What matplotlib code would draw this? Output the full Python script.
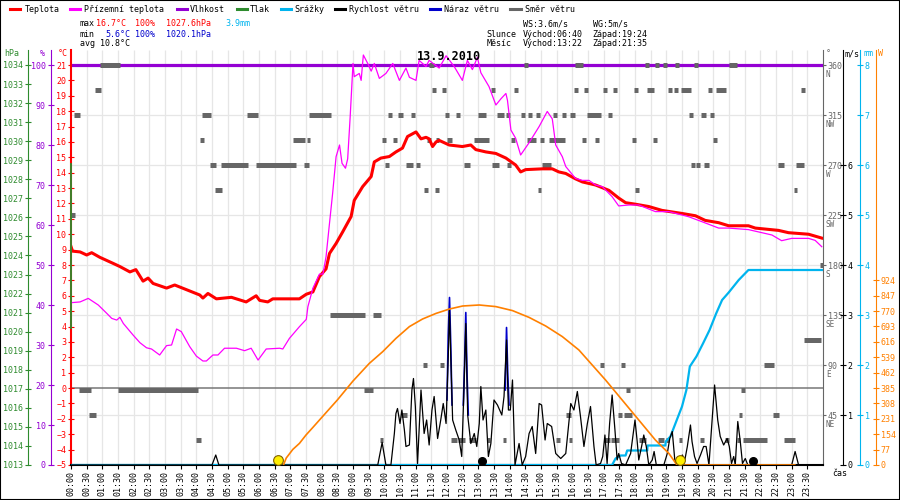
import numpy as np
import matplotlib
matplotlib.use("Agg")
import matplotlib.pyplot as plt
from matplotlib.lines import Line2D
from matplotlib.patches import Rectangle

plt.rcParams['font.family'] = ['DejaVu Sans Mono', 'DejaVu Sans']
plt.rcParams['font.size'] = 6


# --- data (time in hours) ---
temp_t = [0.00, 0.05, 0.29, 0.50, 0.66, 0.92, 1.35, 1.56, 1.88, 2.07, 2.30, 2.46, 2.62,
          3.05, 3.31, 3.68, 4.11, 4.21, 4.37, 4.64, 5.12, 5.59, 5.91, 6.02, 6.28, 6.44,
          6.87, 7.29, 7.51, 7.72, 7.93, 8.14, 8.25, 8.46, 8.67, 8.94, 9.04, 9.31, 9.58,
          9.68, 9.89, 10.16, 10.37, 10.58, 10.74, 11.01, 11.17, 11.33, 11.43, 11.54,
          11.65, 11.75, 12.07, 12.49, 12.76, 12.92, 13.24, 13.56, 13.88, 14.19, 14.35,
          14.51, 15.04, 15.36, 15.57, 15.79, 16.10, 16.32, 16.74, 17.17, 17.48, 17.70,
          18.02, 18.44, 18.86, 19.50, 19.93, 20.24, 20.67, 20.99, 21.62, 21.84, 22.58,
          22.90, 23.54, 23.96]
temp = [9.2, 8.9, 8.85, 8.65, 8.8, 8.5, 8.1, 7.9, 7.55, 7.7, 6.95, 7.15, 6.8,
        6.5, 6.7, 6.4, 6.05, 5.85, 6.15, 5.8, 5.9, 5.6, 6.0, 5.7, 5.6, 5.8,
        5.8, 5.8, 6.1, 6.25, 7.25, 7.75, 8.75, 9.4, 10.15, 11.15, 12.2, 13.1, 13.75,
        14.7, 14.95, 15.05, 15.35, 15.6, 16.35, 16.65, 16.2, 16.3, 16.2, 15.7,
        16.0, 16.1, 15.8, 15.7, 15.8, 15.5, 15.35, 15.25, 14.95, 14.5, 14.05,
        14.2, 14.25, 14.25, 14.05, 13.95, 13.6, 13.4, 13.2, 12.85, 12.35, 12.05,
        11.95, 11.8, 11.55, 11.35, 11.2, 10.9, 10.75, 10.55, 10.55, 10.4, 10.25,
        10.1, 10.0, 9.75]

zem_t = [0.00, 0.29, 0.55, 0.87, 1.14, 1.30, 1.46, 1.56, 1.67, 1.98, 2.20, 2.41, 2.57,
         2.83, 3.05, 3.21, 3.37, 3.52, 3.79, 4.00, 4.21, 4.32, 4.53, 4.69, 4.90, 5.28,
         5.54, 5.75, 5.97, 6.23, 6.66, 6.76, 6.97, 7.29, 7.51, 7.56, 7.72, 7.93, 8.04,
         8.14, 8.25, 8.35, 8.46, 8.57, 8.65, 8.76, 8.83, 8.91, 9.00, 9.04, 9.20, 9.26,
         9.33, 9.47, 9.58, 9.68, 9.84, 10.05, 10.27, 10.48, 10.69, 10.80, 11.01, 11.11,
         11.33, 11.43, 11.75, 11.97, 12.23, 12.49, 12.65, 12.81, 12.97, 13.08, 13.34,
         13.56, 13.72, 13.88, 13.93, 14.04, 14.19, 14.35, 14.62, 14.94, 15.20, 15.36,
         15.47, 15.68, 15.79, 16.10, 16.32, 16.53, 16.74, 16.96, 17.27, 17.48, 17.80,
         18.12, 18.65, 19.08, 19.71, 20.13, 20.67, 20.99, 21.62, 22.05, 22.37, 22.68,
         23.00, 23.54, 23.75, 23.96]
zem = [5.55, 5.6, 5.83, 5.4, 4.86, 4.53, 4.42, 4.6, 4.2, 3.45, 2.95, 2.62, 2.54,
       2.15, 2.76, 2.8, 3.84, 3.67, 2.69, 2.08, 1.76, 1.76, 2.15, 2.15, 2.59, 2.59,
       2.43, 2.59, 1.82, 2.54, 2.59, 2.54, 3.23, 3.99, 4.47, 5.29, 6.49, 7.41, 7.41,
       8.54, 10.71, 12.66, 15.04, 15.8, 14.61, 14.29, 14.9, 17.64, 21.1, 20.24, 20.45, 20.0,
       21.65, 21.1, 20.6, 21.1, 20.13, 20.45, 21.1, 20.0, 20.8, 20.2, 20.0, 21.3,
       20.9, 21.3, 20.8, 21.6, 20.9, 20.0, 21.3, 20.7, 21.5, 20.5, 19.6,
       18.4, 18.8, 19.15, 18.7, 16.77, 16.24, 15.15, 15.95, 17.0, 17.98, 17.5,
       15.8, 15.04, 14.4, 13.63, 13.5, 13.5, 13.2, 13.09, 12.44, 11.84, 11.9,
       11.9, 11.47, 11.47, 11.14, 10.82, 10.4, 10.4, 10.3, 10.1, 9.95, 9.58,
       9.73, 9.73, 9.6, 9.19]

vlhkost_t = [0.0, 24.0]
vlhkost = [100, 100]

tlak_t = [0.0, 0.0]
tlak = [1020.2, 1028.8]

srazky_t = [0.00, 17.27, 17.38, 17.54, 17.70, 17.75, 18.39, 18.40, 18.97, 18.98, 19.13,
            19.29, 19.50, 19.64, 19.75, 19.96, 20.17, 20.38, 20.59, 20.78, 20.99, 21.31,
            21.62, 24.00]
srazky = [0, 0, 0.13, 0.19, 0.19, 0.29, 0.29, 0.39, 0.39, 0.47, 0.57,
          0.83, 1.17, 1.5, 1.97, 2.17, 2.43, 2.7, 3.03, 3.3, 3.45, 3.7,
          3.9, 3.9]

vitr_t = [0.00, 4.50, 4.62, 4.72, 9.79, 9.93, 10.05, 10.21, 10.32, 10.37, 10.42, 10.50,
          10.56, 10.64, 10.69, 10.80, 10.88, 10.93, 10.99, 11.06, 11.17, 11.27, 11.35,
          11.43, 11.52, 11.59, 11.70, 11.80, 11.88, 11.97, 12.04, 12.08, 12.12, 12.18,
          12.28, 12.39, 12.47, 12.54, 12.60, 12.66, 12.76, 12.87, 12.95, 13.03, 13.08,
          13.15, 13.24, 13.32, 13.40, 13.50, 13.61, 13.75, 13.82, 13.90, 13.96, 14.02,
          14.09, 14.17, 14.30, 14.40, 14.51, 14.62, 14.72, 14.83, 14.94, 15.02, 15.13,
          15.20, 15.34, 15.47, 15.63, 15.79, 15.95, 16.05, 16.16, 16.26, 16.37, 16.48,
          16.58, 16.69, 16.76, 16.90, 16.97, 17.04, 17.11, 17.19, 17.27, 17.36, 17.43,
          17.48, 17.57, 17.70, 17.86, 18.00, 18.07, 18.12, 18.21, 18.28, 18.36, 18.44,
          18.55, 18.61, 18.68, 18.92, 19.03, 19.11, 19.19, 19.27, 19.40, 19.51, 19.59,
          19.67, 19.77, 19.82, 19.90, 19.98, 20.09, 20.19, 20.27, 20.36, 20.44, 20.54,
          20.64, 20.72, 20.83, 20.94, 21.01, 21.08, 21.15, 21.20, 21.28, 21.36, 21.43,
          21.52, 21.60, 23.00, 23.11, 23.22, 24.00]
vitr = [0, 0, 0.2, 0, 0, 0.45, 0, 0, 0.63, 1.03, 1.13, 0.83,
        1.1, 0.7, 0.37, 0.4, 1.5, 1.73, 1.17, 0.03, 1.5, 0.63, 0.9,
        0.4, 1.1, 1.37, 0.53, 0.9, 1.23, 0.83, 2.17, 3.1, 2.17, 0.9,
        0.7, 0.5, 0.17, 1.5, 2.83, 1.0, 0.43, 0.63, 0.37, 0.83, 1.57,
        0.9, 1.1, 0.17, 0.43, 1.3, 1.2, 1.0, 1.37, 2.5, 1.1, 1.1,
        1.7, 0, 0.43, 0, 0.17, 0.63, 0.77, 0.23, 1.23, 1.2, 0.5,
        0.83, 0.77, 0.23, 0.13, 0.23, 1.23, 1.1, 1.47, 0.97, 0.37, 0.83,
        1.17, 0.37, 0, 0.03, 0.17, 0.6, 0.03, 0.83, 1.4, 0.7, 0.1,
        0.23, 0.03, 0, 0.23, 0.9, 0.47, 0.1, 0.37, 0.6, 0.37, 0,
        0.1, 0.27, 0, 0, 0.23, 0.53, 0.67, 0.1, 0, 0.2, 0.1,
        0.37, 0.8, 0.47, 0.17, 0.03, 0.2, 0.37, 0.37, 0, 0.7, 1.6,
        0.9, 0.57, 0.4, 0.53, 0.37, 0.03, 0.17, 0, 0.87, 0.47, 0.03,
        0.13, 0, 0, 0.27, 0, 0]

naraz_t = [12.00, 12.04, 12.08, 12.12, 12.16, np.nan, 12.52, 12.56, 12.60, 12.64, 12.68,
           np.nan, 13.86, 13.90, 13.94, 13.98]
naraz = [1.3, 2.6, 3.35, 2.4, 1.2, np.nan, 1.2, 2.0, 3.05, 1.8, 1.0,
         np.nan, 1.5, 2.75, 1.8, 1.2]

slunce_t = [6.78, 6.87, 7.08, 7.29, 7.50, 7.72, 7.93, 8.50, 9.00, 9.52, 9.95, 10.37, 10.80,
            11.22, 11.65, 12.08, 12.50, 13.03, 13.56, 14.09, 14.62, 15.15, 15.68, 16.21,
            16.85, 17.06, 17.59, 18.12, 18.65, 19.08, 19.34, 23.10]
slunce = [0, 35, 78, 108, 150, 188, 225, 325, 420, 508, 567, 633, 692,
          730, 758, 780, 795, 800, 792, 772, 738, 695, 642, 575,
          462, 425, 325, 225, 125, 58, 0, 0]

vychod_zapad_slunce = [6.62, 19.43]
vychod_zapad_mesice = [13.13, 21.78]

# wind direction markers: start, end, degrees
smer_od = [0.00, 0.10, 0.25, 0.57, 0.76, 0.92, 1.50, 4.00, 4.11, 4.17, 4.43, 4.59, 4.78,
           5.61, 5.92, 7.10, 7.45, 7.52, 7.61, 8.28, 9.36, 9.63, 9.86, 9.94, 10.03, 10.13,
           10.29, 10.45, 10.53, 10.70, 10.86, 11.02, 11.22, 11.27, 11.37, 11.43, 11.52,
           11.62, 11.65, 11.78, 11.84, 11.94, 12.01, 12.12, 12.28, 12.36, 12.55, 12.71,
           12.87, 13.00, 13.27, 13.40, 13.45, 13.60, 13.79, 13.89, 13.93, 14.04, 14.14,
           14.35, 14.46, 14.56, 14.59, 14.83, 14.89, 14.96, 15.04, 15.25, 15.38, 15.48,
           15.67, 15.80, 15.89, 15.94, 16.05, 16.10, 16.32, 16.37, 16.46, 16.71, 16.88,
           16.97, 17.00, 17.13, 17.23, 17.29, 17.45, 17.55, 17.64, 17.71, 17.89, 17.96,
           17.99, 18.12, 18.31, 18.38, 18.57, 18.63, 18.73, 18.89, 18.98, 19.04, 19.24,
           19.29, 19.40, 19.46, 19.71, 19.80, 19.89, 19.96, 20.06, 20.12, 20.21, 20.32,
           20.38, 20.48, 20.57, 20.88, 20.99, 21.24, 21.31, 21.39, 21.46, 22.13, 22.39,
           22.56, 22.74, 23.06, 23.13, 23.30, 23.40, 23.90]
smer_do = [0.13, 0.29, 0.64, 0.80, 0.96, 1.56, 4.04, 4.14, 4.24, 4.46, 4.64, 4.81, 5.64,
           5.96, 7.17, 7.48, 7.58, 7.64, 8.31, 9.39, 9.63, 9.90, 9.97, 10.06, 10.16, 10.26,
           10.41, 10.58, 10.73, 10.92, 10.99, 11.15, 11.35, 11.40, 11.50, 11.59, 11.65,
           11.75, 11.75, 11.92, 11.97, 12.07, 12.16, 12.32, 12.41, 12.57, 12.73, 12.92,
           13.34, 13.24, 13.38, 13.53, 13.66, 13.82, 13.89, 14.00, 14.05, 14.17, 14.27,
           14.48, 14.59, 14.83, 14.72, 14.96, 15.01, 15.10, 15.33, 15.75, 15.50, 15.60,
           15.80, 15.95, 15.98, 16.07, 16.18, 16.34, 16.44, 16.50, 16.90, 16.85, 17.00,
           17.10, 17.19, 17.25, 17.48, 17.42, 17.58, 17.68, 17.90, 17.83, 18.02, 18.09,
           18.12, 18.34, 18.44, 18.60, 18.70, 18.76, 18.92, 19.01, 19.08, 19.17, 19.36,
           19.42, 19.50, 19.78, 19.84, 19.93, 20.01, 20.09, 20.19, 20.25, 20.35, 20.45,
           20.51, 20.61, 20.92, 21.00, 21.27, 21.36, 21.43, 21.50, 22.20, 22.45, 22.61,
           22.77, 23.12, 23.18, 23.38, 23.43, 23.95, 24.00]
smer = [225, 315, 67.5, 45, 337.5, 360, 67.5, 22.5, 292.5, 315, 270, 247.5, 270,
        315, 270, 292.5, 270, 292.5, 315, 135, 67.5, 135, 22.5, 292.5, 270, 315,
        292.5, 315, 45, 270, 315, 270, 90, 247.5, 292.5, 360, 337.5,
        247.5, 292.5, 90, 337.5, 315, 292.5, 22.5, 315, 22.5, 270, 22.5,
        292.5, 315, 22.5, 337.5, 270, 315, 22.5, 315, 270, 292.5, 337.5,
        315, 360, 292.5, 315, 315, 247.5, 292.5, 270, 292.5, 315, 22.5,
        315, 45, 22.5, 315, 337.5, 360, 292.5, 337.5, 315, 292.5, 90,
        337.5, 22.5, 315, 22.5, 337.5, 45, 90, 45, 67.5, 292.5, 337.5,
        247.5, 22.5, 360, 337.5, 292.5, 360, 22.5, 360, 22.5, 337.5, 337.5,
        360, 22.5, 337.5, 315, 270, 360, 270, 22.5, 315, 270, 337.5,
        315, 292.5, 337.5, 22.5, 360, 22.5, 45, 67.5, 22.5, 90, 45,
        270, 22.5, 247.5, 270, 337.5, 112.5, 180]

smer_ticks = [45, 90, 135, 180, 225, 270, 315, 360]
smer_nazvy = ['NE', 'E', 'SE', 'S', 'SW', 'W', 'NW', 'N']
sol_ticks = [0, 77, 154, 231, 308, 385, 462, 539, 616, 693, 770, 847, 924]

CERVENA = '#ff0000'
RUZOVA = '#ff00ff'
FIALOVA = '#9400d3'
ZELENA = '#2e8b2e'
AZUROVA = '#00b4ee'
MODRA = '#0000cc'
SEDA = '#666666'
ORANZOVA = '#ff8000'
MRIZKA = '#e6e6e6'

W, H = 900, 500


def obdelnik(x0, y0, x1, y1):
    return [x0 / W, 1 - y1 / H, (x1 - x0) / W, (y1 - y0) / H]


def meze(lo, hi):
    # 15 px of headroom above the top value
    return lo, hi + (hi - lo) * 15 / 400


fig = plt.figure(figsize=(9, 5), dpi=100)
ax = fig.add_axes(obdelnik(71, 50, 823, 465))


def osa(strana, posun, barva, lo, hi, ticks):
    a = ax.twinx()
    for s in a.spines.values():
        s.set_visible(False)
    a.spines[strana].set_visible(True)
    a.spines[strana].set_position(('outward', posun * 72 / 100))
    a.spines[strana].set_color(barva)
    if strana == 'left':
        a.yaxis.tick_left()
    a.set_ylim(*meze(lo, hi))
    a.set_yticks(ticks)
    a.tick_params(axis='y', colors=barva, direction='inout', length=5, pad=1, labelsize=6)
    return a


ax_p = osa('left', 42.7, ZELENA, 1013, 1034, list(range(1013, 1035)))
ax_h = osa('left', 20.3, FIALOVA, 0, 100, list(range(0, 101, 10)))
ax_d = osa('right', 0, SEDA, 0, 360, smer_ticks)
ax_ws = osa('right', 20, 'black', 0, 8, list(range(0, 7)))
ax_mm = osa('right', 37, AZUROVA, 0, 8, list(range(0, 9)))
ax_s = osa('right', 53, ORANZOVA, 0, 2000, sol_ticks)

for d, n in zip(smer_ticks, smer_nazvy):
    ax_d.annotate(n, xy=(1, d), xycoords=('axes fraction', 'data'), xytext=(3, -9),
                  textcoords='offset pixels', color=SEDA, fontsize=5.5, va='center')

# main axis (temperature) drawn on top of the scale axes
ax.set_zorder(5)
ax.patch.set_visible(False)
ax.set_xlim(0, 24)
ax.set_ylim(*meze(-5, 21))
ax.set_yticks(list(range(-5, 22)))
for s in ['top', 'right']:
    ax.spines[s].set_visible(False)
ax.spines['left'].set_color(CERVENA)
ax.spines['left'].set_linewidth(1.5)
ax.spines['bottom'].set_color('black')
ax.spines['bottom'].set_linewidth(1.5)
ax.tick_params(axis='y', colors=CERVENA, direction='inout', length=5, pad=1, labelsize=6)
ax.set_xticks(np.arange(0, 24, 0.5))
ax.set_xticklabels([f"{int(h):02d}:{int(round((h % 1) * 60)):02d}" for h in np.arange(0, 24, 0.5)])
ax.tick_params(axis='x', length=3, direction='out', pad=1.5, labelrotation=90, labelsize=6)

# grid
ax.vlines(np.arange(0.5, 24, 0.5), -5, 22, color=MRIZKA, lw=0.9, zorder=0.5)
ax.hlines(smer_ticks[:-1], 0, 24, color=MRIZKA, lw=0.9, zorder=0.5, transform=ax_d.transData)
ax.axhline(0, color='#777777', lw=1.1, zorder=1)

ax.plot(vlhkost_t, vlhkost, color=FIALOVA, lw=2.3, zorder=2, transform=ax_h.transData)
ax.hlines(smer, smer_od, smer_do, color=SEDA, lw=3.6, zorder=3, transform=ax_d.transData)
ax.plot(temp_t, temp, color=CERVENA, lw=2.2, zorder=4)
ax.plot(zem_t, zem, color=RUZOVA, lw=0.9, zorder=4.5)
ax.plot(tlak_t, tlak, color=ZELENA, lw=1.3, zorder=4.6, clip_on=False, transform=ax_p.transData)
ax.plot(srazky_t, srazky, color=AZUROVA, lw=1.6, zorder=5, transform=ax_mm.transData)
ax.plot(naraz_t, naraz, color=MODRA, lw=1.2, zorder=5.5, transform=ax_ws.transData)
ax.plot(vitr_t, vitr, color='black', lw=0.9, zorder=6, transform=ax_ws.transData)
ax.plot(slunce_t, slunce, color=ORANZOVA, lw=1.2, zorder=6.5, transform=ax_s.transData)
ax.plot(vychod_zapad_slunce, [25, 25], 'o', ms=7, mfc='#ffee00', mec='#806000', mew=0.8,
        zorder=7, transform=ax_s.transData, clip_on=False)
ax.plot(vychod_zapad_mesice, [22, 22], 'o', ms=5.5, color='black', zorder=7,
        transform=ax_s.transData, clip_on=False)

# axis headers
for x, txt, c in [(12, 'hPa', ZELENA), (42, '%', FIALOVA), (63, '°C', CERVENA),
                  (828, '°', SEDA), (852, 'm/s', 'black'), (868, 'mm', AZUROVA), (880, 'W', ORANZOVA)]:
    fig.text(x / W, 1 - 54 / H, txt, color=c, ha='center', va='center', fontsize=6)
fig.text(840 / W, 1 - 473 / H, 'čas', ha='center', va='center', fontsize=6)

fig.text(449 / W, 1 - 57 / H, '13.9.2010', ha='center', va='center', fontsize=8.5,
         fontweight='bold', zorder=20)

# legend row
legenda = [(10, 20, 25, 'Teplota', CERVENA), (70, 80, 84, 'Přízemní teplota', RUZOVA),
           (177, 187, 190, 'Vlhkost', FIALOVA), (237, 247, 250, 'Tlak', ZELENA),
           (281, 291, 294, 'Srážky', AZUROVA), (335, 345, 349, 'Rychlost větru', 'black'),
           (430, 440, 444, 'Náraz větru', MODRA), (510, 521, 525, 'Směr větru', SEDA)]
for x0, x1, xt, txt, c in legenda:
    fig.add_artist(Line2D([x0 / W, x1 / W], [1 - 9 / H, 1 - 9 / H], color=c, lw=2.2,
                          transform=fig.transFigure))
    fig.text(xt / W, 1 - 9 / H, txt, ha='left', va='center', fontsize=6)

# summary text
radky = [(80, 24, 'max', 'black'), (95.7, 24, '16.7°C', CERVENA), (135, 24, '100%', CERVENA),
         (165.7, 24, '1027.6hPa', CERVENA), (225, 24, '3.9mm', AZUROVA),
         (80, 34, 'min', 'black'), (105, 34, '5.6°C', MODRA), (135, 34, '100%', MODRA),
         (165.7, 34, '1020.1hPa', MODRA), (80, 44, 'avg 10.8°C', 'black'),
         (522.7, 24, 'WS:3.6m/s', 'black'), (592.7, 24, 'WG:5m/s', 'black'),
         (486.7, 34, 'Slunce', 'black'), (522.7, 34, 'Východ:06:40', 'black'),
         (592.7, 34, 'Západ:19:24', 'black'),
         (486.7, 44, 'Měsíc', 'black'), (522.7, 44, 'Východ:13:22', 'black'),
         (592.7, 44, 'Západ:21:35', 'black')]
for x, y, txt, c in radky:
    fig.text(x / W, 1 - y / H, txt, color=c, ha='left', va='center', fontsize=6)

fig.add_artist(Rectangle((0, 0), 1, 1, transform=fig.transFigure, fill=False,
                         edgecolor='black', lw=1.5))

fig.savefig('out.png', dpi=100)
